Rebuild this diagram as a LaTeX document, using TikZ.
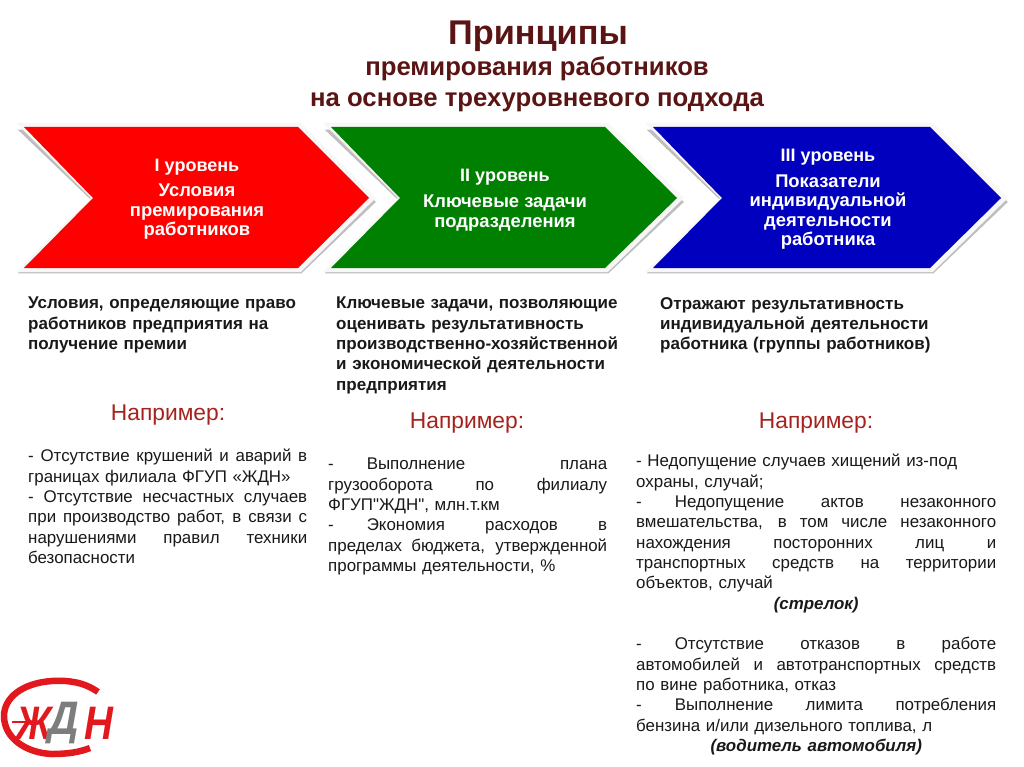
\documentclass[tikz,border=0pt]{standalone}
\usepackage{fontspec}
\usepackage{graphicx}
\setmainfont{Liberation Sans}
\newfontfamily\plainq{Liberation Sans}
\usetikzlibrary{calc}
\definecolor{ttl}{RGB}{90,20,20}
\definecolor{nap}{RGB}{165,35,30}
\definecolor{bodyk}{RGB}{25,25,25}
\definecolor{shade}{RGB}{190,190,190}
\definecolor{rimc}{RGB}{247,247,247}
\definecolor{gred}{RGB}{0,128,0}
\definecolor{bblue}{RGB}{0,0,190}
\definecolor{lred}{RGB}{225,25,30}
\definecolor{lgray}{RGB}{125,125,125}
\newcommand{\fs}[2]{\fontsize{#1}{#2}\selectfont}
\newcommand{\J}[1]{\hbox to \hsize{\spaceskip=.3em plus 1fil\relax #1}}
\newcommand{\Lf}[1]{\hbox to \hsize{#1\hfil}}
\newcommand{\Cn}[1]{\hbox to \hsize{\hfil #1\hfil}}
\tikzset{
  x=1pt,y=-1pt,
  chevshadow/.style={fill=shade,draw=shade,line width=2.5pt,line join=miter},
  chevrim/.style={fill=rimc,draw=rimc,line width=4pt,line join=miter},
  chevlabel/.style={text=white,font=\bfseries,align=center,inner sep=0pt},
  headtxt/.style={anchor=north west,inner sep=0pt,text=bodyk,font=\bfseries\fs{17}{20.3},text width=#1},
  bodytxt/.style={anchor=north west,inner sep=0pt,text=bodyk,font=\fs{16.9}{20.33},text width=#1},
  naptxt/.style={text=nap,font=\fs{22.8}{26},inner sep=0pt},
  logoltr/.style={inner sep=0pt,font=\bfseries\itshape\fs{47}{49}},
}
\begin{document}
\begin{tikzpicture}
\useasboundingbox (0,0) rectangle (1024,767);
\fill[white] (0,0) rectangle (1024,767);
% title
\node[inner sep=0pt,text=ttl,font=\bfseries\fs{34.3}{36}] (t1) at (538,36) {Принципы};
\node[inner sep=0pt,text=ttl,font=\bfseries\fs{25.7}{28}] (t2) at (537,69) {премирования работников};
\node[inner sep=0pt,text=ttl,font=\bfseries\fs{25.7}{28}] (t3) at (537,102) {на основе трехуровневого подхода};
% chevrons
\foreach \xa/\xb/\xc/\xd/\col in {24/93/298/369/red,331/400/605/677/gred,653/722/930/1001/bblue}{
  \draw[chevshadow] (\xa-3,272) -- (\xb+2,202) -- (\xa-3,131) -- (\xc+3,131) -- (\xd+5,202) -- (\xc+3,272) -- cycle;
  \draw[chevrim] (\xa-3,270) -- (\xb+1,198) -- (\xa-3,125) -- (\xc+2,125) -- (\xd+4,198) -- (\xc+2,270) -- cycle;
  \fill[\col] (\xa,268) -- (\xb,198) -- (\xa,127) -- (\xc,127) -- (\xd,198) -- (\xc,268) -- cycle;
}
% chevron labels
\node[chevlabel,font=\bfseries\fs{18}{18}] (l1a) at (197,167) {I уровень};
\node[chevlabel,font=\bfseries\fs{18.4}{19.5}] (l1b) at (197,212) {Условия\\премирования\\работников};
\node[chevlabel,font=\bfseries\fs{18}{18}] (l2a) at (505,177) {II уровень};
\node[chevlabel,font=\bfseries\fs{18.4}{19.5}] (l2b) at (505,213) {Ключевые задачи\\подразделения};
\node[chevlabel,font=\bfseries\fs{18}{18}] (l3a) at (828,157) {III уровень};
\node[chevlabel,font=\bfseries\fs{18.4}{19.5}] (l3b) at (828,212) {Показатели\\индивидуальной\\деятельности\\работника};
% descriptions
\node[headtxt=285pt] (h1) at (28,297) {\vbox{\Lf{Условия, определяющие право}\Lf{работников предприятия на}\Lf{получение премии}}};
\node[headtxt=290pt] (h2) at (336,297) {\vbox{\Lf{Ключевые задачи, позволяющие}\Lf{оценивать результативность}\Lf{производственно-хозяйственной}\Lf{и экономической деятельности}\Lf{предприятия}}};
\node[headtxt=290pt] (h3) at (660,297) {\vbox{\Lf{Отражают результативность}\Lf{индивидуальной деятельности}\Lf{работника (группы работников)}}};
% examples
\node[naptxt] (n1) at (168,415) {Например:};
\node[naptxt] (n2) at (467,423) {Например:};
\node[naptxt] (n3) at (816,423) {Например:};
% lists
\node[bodytxt=279pt] (b1) at (28,449) {\vbox{\J{- Отсутствие крушений и аварий в}\Lf{границах филиала ФГУП «ЖДН»}\J{- Отсутствие несчастных случаев}\J{при производство работ, в связи с}\J{нарушениями правил техники}\Lf{безопасности}}};
\node[bodytxt=279pt] (b2) at (328,458) {\vbox{\J{-\hspace{33pt}Выполнение плана}\J{грузооборота по филиалу}\Lf{{\plainq ФГУП"ЖДН", млн.т.км}}\J{-\hspace{33pt}Экономия расходов в}\J{пределах бюджета, утвержденной}\Lf{программы деятельности, \%}}};
\node[bodytxt=360pt] (b3) at (636,454) {\vbox{\Lf{- Недопущение случаев хищений из-под}\Lf{охраны, случай;}\J{-\hspace{33pt}Недопущение актов незаконного}\J{вмешательства, в том числе незаконного}\J{нахождения посторонних лиц и}\J{транспортных средств на территории}\Lf{объектов, случай}\Cn{\bfseries\itshape (стрелок)}\Lf{\strut}\J{-\hspace{33pt}Отсутствие отказов в работе}\J{автомобилей и автотранспортных средств}\Lf{по вине работника, отказ}\J{-\hspace{33pt}Выполнение лимита потребления}\Lf{бензина и/или дизельного топлива, л}\Cn{\bfseries\itshape (водитель автомобиля)}}};
% logo
\draw[lred,line width=6.5pt] (98,692) .. controls (84,682) and (68,680) .. (52,681) .. controls (22,683) and (4,698) .. (4,716) .. controls (4,738) and (26,753) .. (52,754) .. controls (68,754) and (80,752) .. (90,748);
\fill[lred] (12,720.5) rectangle (30,723);
\node[logoltr,text=lred] (lz) at (34,723) {\scalebox{.82}[1]{Ж}};
\node[logoltr,text=lgray] (ld) at (64,723) {\scalebox{.9}[1]{Д}};
\node[logoltr,text=lred] (ln) at (99,723) {\scalebox{.85}[1]{Н}};
\end{tikzpicture}
\end{document}
